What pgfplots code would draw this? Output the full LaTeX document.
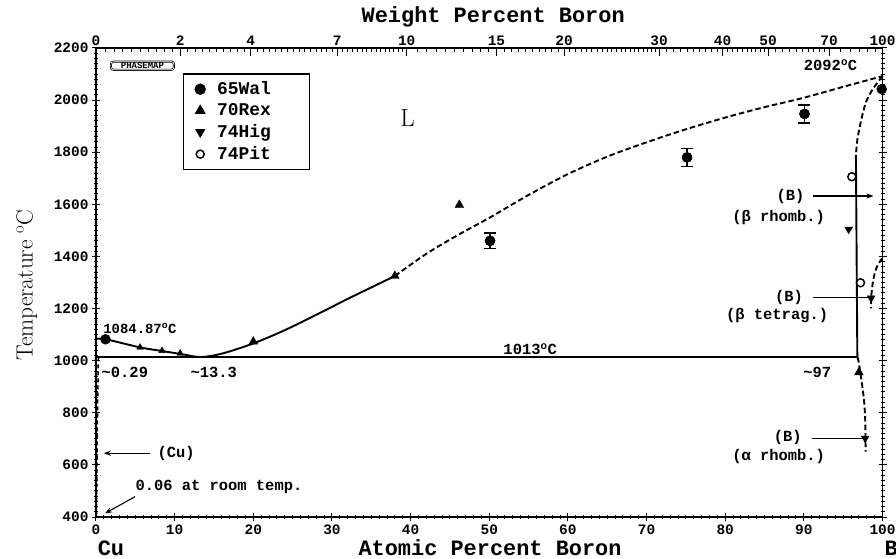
\documentclass[border=0pt]{standalone}
\usepackage{fontspec}
\newfontfamily\tw{Liberation Mono}
\usepackage{pgfplots}
\pgfplotsset{compat=1.18}
\usetikzlibrary{arrows.meta}

% weight percent B -> atomic percent B (Cu-B)
\pgfmathdeclarefunction{wa}{1}{\pgfmathparse{100*(#1/10.811)/((#1/10.811)+(100-#1)/63.546)}}
\def\wmaj{0}
\foreach \w in {2,4,7,10,15,20,30,40,50,70}{\pgfmathparse{wa(\w)}\xdef\wmaj{\wmaj,\pgfmathresult}}
\xdef\wmaj{\wmaj,100}
\def\wmin{0}
\foreach \i in {1,...,49}{\pgfmathparse{wa(0.2*\i)}\xdef\wmin{\wmin,\pgfmathresult}}
\foreach \i in {21,...,59}{\pgfmathparse{wa(0.5*\i)}\xdef\wmin{\wmin,\pgfmathresult}}
\foreach \i in {31,...,49}{\pgfmathparse{wa(\i)}\xdef\wmin{\wmin,\pgfmathresult}}
\foreach \i in {52,54,...,68}{\pgfmathparse{wa(\i)}\xdef\wmin{\wmin,\pgfmathresult}}
\foreach \i in {75,80,...,95}{\pgfmathparse{wa(\i)}\xdef\wmin{\wmin,\pgfmathresult}}

\newcommand\tkfont{\tw\bfseries\fontsize{14.5}{14.5}\selectfont}
\newcommand\lab{\tw\bfseries\fontsize{15.5}{15.5}\selectfont}
\newcommand\ttl{\tw\bfseries\fontsize{22}{22}\selectfont}

\begin{document}
\begin{tikzpicture}
\useasboundingbox (-96bp,-42bp) rectangle (800bp,517bp);
\pgfplotsset{
  base/.style={
    at={(0,0)}, anchor=south west,
    scale only axis, width=786.5bp, height=469bp,
    xmin=0, xmax=100, ymin=400, ymax=2200,
    axis line style={line width=1.4bp},
    every tick/.style={black, line width=1bp},
    major tick length=8bp, minor tick length=4bp,
    ticklabel style={font=\tkfont},
    /pgf/number format/assume math mode=true,
    /pgf/number format/1000 sep={},
  }
}
% top axis: weight percent
\begin{axis}[base,
    axis x line*=top, axis y line=none,
    tick align=inside,
    xtick/.expanded={\wmaj},
    xticklabels={0,2,4,7,10,15,20,30,40,50,70,100},
    minor xtick/.expanded={\wmin},
    xticklabel style={yshift=-1bp},
]
\end{axis}

\begin{axis}[base,
    clip=false,
    tick align=center,
    xtick={0,10,...,100}, minor x tick num=9,
    ytick={400,600,...,2200}, minor y tick num=9,
    xtick pos=bottom, ytick pos=both, yticklabel pos=left,
    legend style={at={(axis cs:11,2103)}, anchor=north west,
        line width=1.4bp, font=\tw\bfseries\fontsize{18}{18}\selectfont,
        inner xsep=12bp, inner ysep=6bp, row sep=3.5bp, column sep=10bp,
        cells={anchor=west}},
    legend cell align=left,
]
% eutectic isotherm
\addplot[forget plot, line width=1.9bp] coordinates {(0,1013) (96.8,1013)};
% liquidus, measured part
\addplot[forget plot, line width=1.9bp, smooth, tension=0.5] coordinates {
  (0,1084.87) (1.4,1081) (5.6,1051) (8.4,1037) (10.7,1026) (13.3,1014)
  (16,1027) (20,1066) (24,1117) (28,1176) (32,1237) (35,1281) (38,1325)};
% liquidus, estimated part
\addplot[forget plot, line width=1.9bp, dash pattern=on 5.5bp off 3bp, smooth] coordinates {
  (38,1325) (42,1410) (46,1482) (50,1548) (55,1636) (60,1716) (65,1783)
  (70,1838) (75,1888) (80,1933) (85,1973) (90,2009) (95,2051) (100,2092)};
% (B) solidus / solvus
\addplot[forget plot, line width=1.9bp, dash pattern=on 5.5bp off 3bp, smooth] coordinates {
  (100,2092) (98.7,2039) (97.85,1988) (97.2,1911) (96.8,1847) (96.62,1790)};
\addplot[forget plot, line width=1.9bp] coordinates {(96.62,1790) (96.8,1013)};
\addplot[forget plot, line width=1.9bp, dash pattern=on 5.5bp off 3bp, smooth] coordinates {
  (96.8,1013) (97.0,990) (97.6,862) (97.8,773) (97.85,651)};
\addplot[forget plot, line width=1.9bp, dash pattern=on 5.5bp off 3bp, smooth] coordinates {
  (99.95,1393) (99.3,1361) (98.9,1322) (98.7,1284) (98.55,1240) (98.55,1201)};
% (Cu) solvus
\addplot[forget plot, line width=1.5bp, dash pattern=on 4bp off 3bp] coordinates {
  (0.3,1013) (0.15,700) (0.06,400)};

% experimental data
\addplot[only marks, mark=*, mark size=5bp] coordinates {
  (1.2,1082) (50.1,1460) (75.15,1780) (90.08,1947) (99.9,2042)};
\addlegendentry{\makebox[78bp][l]{65Wal}}
\addplot[forget plot, only marks, mark=*, mark size=5bp,
  error bars/.cd, y dir=both, y explicit,
  error bar style={line width=1.6bp},
  error mark options={rotate=90, mark size=6bp, line width=1.6bp}] coordinates {
  (50.1,1460) +- (0,30) (75.15,1780) +- (0,35) (90.08,1947) +- (0,35)};
\addplot[only marks, mark=triangle*, mark size=5bp] coordinates {
  (20,1073) (38,1325) (46.2,1598) (97.0,955)};
\addlegendentry{70Rex}
\addplot[forget plot, only marks, mark=triangle*, mark size=3.8bp] coordinates {
  (5.6,1051) (8.4,1038) (10.7,1028)};
\addplot[only marks, mark=triangle*, mark size=4.5bp, mark options={rotate=180}] coordinates {
  (95.7,1504) (98.55,1240) (97.8,702)};
\addlegendentry{74Hig}
\addplot[only marks, mark=*, mark size=4bp, mark options={fill=white, line width=1.5bp}] coordinates {
  (96.1,1706) (97.2,1299)};
\addlegendentry{74Pit}

% annotations
\node[font=\tw\bfseries\fontsize{14}{14}\selectfont, inner sep=0pt, anchor=west] at (axis cs:0.9,1124) {1084.87\textsuperscript{o}C};
\node[font=\lab, inner sep=0pt] at (axis cs:93.4,2135) {2092\textsuperscript{o}C};
\node[font=\lab, inner sep=0pt] at (axis cs:55.2,1044) {1013\textsuperscript{o}C};
\node[font=\lab, inner sep=0pt, anchor=west] at (axis cs:0.7,954) {\textasciitilde0.29};
\node[font=\lab, inner sep=0pt, anchor=west] at (axis cs:12.0,954) {\textasciitilde13.3};
\node[font=\lab, inner sep=0pt] at (axis cs:91.7,954) {\textasciitilde97};
\node[font=\fontsize{25}{25}\selectfont, inner sep=0pt] at (axis cs:39.6,1931) {L};
\node[font=\tw\bfseries\fontsize{9}{9}\selectfont, draw, double, line width=0.7bp,
  rounded corners=2.5bp, inner xsep=10bp, inner ysep=1bp] at (axis cs:5.9,2132) {PHASEMAP};

\node[font=\lab, inner sep=0pt] at (axis cs:88.3,1629) {(B)};
\node[font=\lab, inner sep=0pt] at (axis cs:86.8,1551) {(β rhomb.)};
\draw[line width=1.1bp, -{Stealth[length=7bp]}] (axis cs:91.1,1632) -- (axis cs:98.85,1632);
\node[font=\lab, inner sep=0pt] at (axis cs:88.1,1243) {(B)};
\node[font=\lab, inner sep=0pt] at (axis cs:86.6,1172) {(β tetrag.)};
\draw[line width=1.1bp] (axis cs:91.1,1241) -- (axis cs:98.4,1241);
\node[font=\lab, inner sep=0pt] at (axis cs:87.95,706) {(B)};
\node[font=\lab, inner sep=0pt] at (axis cs:86.8,634) {(α rhomb.)};
\draw[line width=1.1bp] (axis cs:91.0,703) -- (axis cs:97.7,703);

\node[font=\lab, inner sep=0pt, anchor=west] at (axis cs:7.8,645) {(Cu)};
\draw[line width=1.1bp, -{Stealth[length=7bp]}] (axis cs:6.9,645) -- (axis cs:1.0,645);
\node[font=\lab, inner sep=0pt, anchor=west] at (axis cs:5.0,517) {0.06 at room temp.};
\draw[line width=1.1bp, -{Stealth[length=7bp]}] (axis cs:4.96,478) -- (axis cs:1.15,414);

% axis titles
\node[font=\ttl] at (axis cs:50.5,2319) {Weight Percent Boron};
\node[font=\ttl] at (axis cs:50.1,281) {Atomic Percent Boron};
\node[font=\ttl] at (axis cs:1.9,281) {Cu};
\node[font=\ttl] at (axis cs:101.1,281) {B};
\node[rotate=90, font=\fontsize{23.5}{23.5}\selectfont] at (axis cs:-8.8,1290) {Temperature \textsuperscript{o}C};
\end{axis}
\end{tikzpicture}
\end{document}
